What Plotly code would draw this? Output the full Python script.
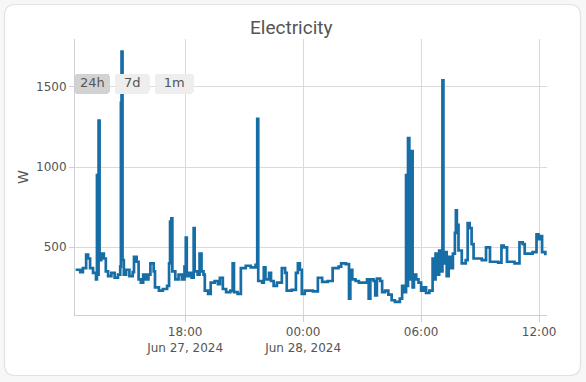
import plotly.graph_objects as go

# ---- data ----
times_27 = ["12:26","12:40","12:48","12:58","13:04","13:10","13:19","13:28","13:31","13:33",
            "13:36","13:39","13:44","13:52","13:58","14:05","14:15","14:25","14:35","14:42",
            "14:44","14:46","14:49","14:53","15:00","15:10","15:20","15:24","15:32","15:38",
            "15:45","15:52","16:00","16:08","16:14","16:24","16:28","16:40","16:52","17:05",
            "17:11","17:14","17:18","17:21","17:30","17:40","17:50","17:58","18:02","18:05",
            "18:12","18:20","18:26","18:29","18:38","18:44","18:50","18:56","19:00","19:10",
            "19:18","19:30","19:40","19:46","19:55","20:05","20:18","20:25","20:29","20:40",
            "20:50","21:05","21:20","21:35","21:40","21:43","21:55","22:00","22:05","22:16",
            "22:22","22:30","22:40","22:55","23:05","23:10","23:25","23:38","23:44","23:50",
            "23:56"]
watts_27 = [360,345,370,455,430,370,340,300,950,330,
            1290,420,460,430,350,320,340,310,330,380,
            1400,1720,420,330,360,320,345,440,410,300,
            280,330,300,330,400,350,250,230,240,260,
            400,660,680,350,300,330,300,380,560,320,
            340,310,620,350,330,460,350,330,230,210,
            280,290,270,310,240,220,230,400,220,210,
            370,385,375,390,1300,290,280,375,300,340,
            290,260,280,370,340,230,235,340,400,360,
            210]
times_28 = ["00:05","00:12","00:30","00:45","00:58","01:15","01:30","01:48","01:56","02:10",
            "02:20","02:24","02:30","02:40","02:50","03:05","03:15","03:20","03:25","03:35",
            "03:40","03:45","03:55","04:01","04:10","04:20","04:30","04:40","04:55","05:02",
            "05:08","05:14","05:17","05:20","05:24","05:29","05:34","05:38","05:45","05:52",
            "06:00","06:08","06:15","06:25","06:35","06:40","06:44","06:48","06:55","07:00",
            "07:05","07:08","07:12","07:18","07:24","07:30","07:37","07:43","07:46","07:49",
            "07:54","08:04","08:16","08:22","08:28","08:34","08:40","09:05","09:18","09:30",
            "09:55","10:05","10:12","10:22","10:45","11:00","11:10","11:16","11:40","11:52",
            "11:58","12:04","12:09","12:19"]
watts_28 = [230,230,225,310,285,290,370,380,400,395,
            180,360,300,290,280,280,300,180,300,290,
            200,305,290,220,230,205,170,160,180,260,
            220,950,260,1180,300,1100,250,330,300,280,
            230,250,215,230,430,300,460,330,480,350,
            1540,400,470,320,440,370,460,590,730,640,
            480,400,420,650,620,520,430,420,500,410,
            405,510,500,410,400,530,520,460,470,580,
            550,570,470,450]

timestamps = ["2024-06-27 " + t for t in times_27] + ["2024-06-28 " + t for t in times_28]
watts = watts_27 + watts_28

x_range = ["2024-06-27 12:24", "2024-06-28 12:24"]
y_range = [78, 1798]
title_text = "Electricity"
y_title = "W"
button_labels = ["24h", "7d", "1m"]

# ---- layout geometry ----
W, H = 586, 382
ML, MR, MT, MB = 75, 39, 39, 67
PW, PH = W - ML - MR, H - MT - MB

def px2paper(X, Y):
    return (X - ML) / PW, (H - MB - Y) / PH

def rounded_path(x0, y0, x1, y1, r):
    def P(X, Y):
        a, b = px2paper(X, Y)
        return f"{a:.5f},{b:.5f}"
    return (f"M {P(x0 + r, y0)} L {P(x1 - r, y0)} Q {P(x1, y0)} {P(x1, y0 + r)} "
            f"L {P(x1, y1 - r)} Q {P(x1, y1)} {P(x1 - r, y1)} "
            f"L {P(x0 + r, y1)} Q {P(x0, y1)} {P(x0, y1 - r)} "
            f"L {P(x0, y0 + r)} Q {P(x0, y0)} {P(x0 + r, y0)} Z")

TICK_FONT = "DejaVu Sans, Verdana, sans-serif"
NB = "\u00a0"

fig = go.Figure()
fig.add_trace(go.Scatter(
    x=timestamps, y=watts, mode="lines",
    line=dict(color="#176ea6", width=2.7, shape="hv"),
    showlegend=False,
))

fig.add_shape(type="path", path=rounded_path(4.5, 4.5, 580.5, 375.5, 11),
              xref="paper", yref="paper", layer="below",
              fillcolor="white", line=dict(color="#e2e2e2", width=1.2))

fig.update_layout(
    width=W, height=H,
    margin=dict(l=ML, r=MR, t=MT, b=MB),
    paper_bgcolor="#f7f7f7", plot_bgcolor="rgba(0,0,0,0)",
    font=dict(family=TICK_FONT, size=12, color="#555"),
    title=dict(text=title_text, x=0.497, xref="container", xanchor="center",
               y=1 - 27 / H, yref="container", yanchor="middle",
               font=dict(family="Roboto, sans-serif", size=19, color="#555")),
    xaxis=dict(
        range=x_range, type="date",
        showgrid=True, gridcolor="#dadada", gridwidth=1,
        showline=True, linecolor="#cfcfcf", linewidth=1,
        ticks="outside", ticklen=6, tickcolor="#cfcfcf",
        dtick=6 * 3600 * 1000, tick0="2024-06-27 00:00",
        tickfont=dict(family=TICK_FONT, size=12, color="#555"),
        zeroline=False,
        rangeselector=dict(
            buttons=[dict(count=24, label=button_labels[0], step="hour", stepmode="backward"),
                     dict(count=7, label=NB + button_labels[1] + NB, step="day", stepmode="backward"),
                     dict(count=1, label=NB + button_labels[2] + NB, step="month", stepmode="backward")],
            x=0, xanchor="left", y=0.80, yanchor="bottom",
            bgcolor="#eeeeee", activecolor="#d2d2d2",
            font=dict(family=TICK_FONT, size=13, color="#555"),
        ),
    ),
    yaxis=dict(
        range=y_range,
        title=dict(text=y_title, font=dict(family=TICK_FONT, size=14, color="#555"), standoff=4),
        showgrid=True, gridcolor="#dadada", gridwidth=1,
        showline=True, linecolor="#cfcfcf", linewidth=1,
        ticks="outside", ticklen=5, tickcolor="#cfcfcf",
        tickvals=[500, 1000, 1500],
        tickfont=dict(family=TICK_FONT, size=12, color="#555"),
        zeroline=False,
    ),
)

fig.write_html("out.html", config={"displayModeBar": False},
               post_script="document.body.style.margin='0px';document.body.style.overflow='hidden';")
